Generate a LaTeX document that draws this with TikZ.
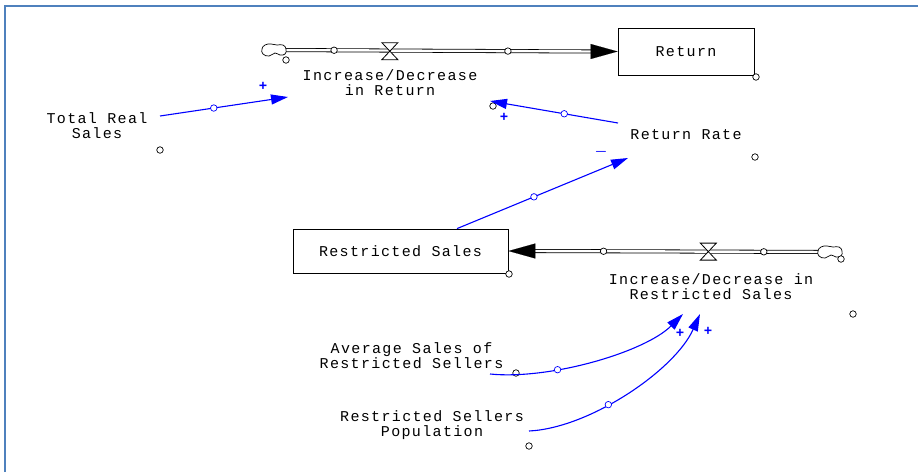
\documentclass[tikz,border=0pt]{standalone}
\usepackage{fontspec}
\newfontfamily\simfont[LetterSpace=9]{Liberation Mono}
\usetikzlibrary{arrows.meta,positioning,calc}
\definecolor{framecol}{RGB}{79,129,189}
\definecolor{linkblue}{RGB}{0,0,255}

\begin{document}
\begin{tikzpicture}[x=1pt,y=-1pt,
    varname/.style={font=\simfont\fontsize{15}{15}\selectfont,align=center,inner sep=0pt},
    stockbox/.style={varname,draw,line width=0.8pt},
    dot/.style={circle,draw,line width=0.7pt,minimum size=6.5pt,inner sep=0pt,fill=white},
    handle/.style={dot,draw=linkblue},
    link/.style={draw=linkblue,line width=1.1pt,-{Triangle[length=17pt,width=10pt]}},
    pipe/.style={double,double distance=2.4pt,line width=0.8pt},
    pipetip/.style={line width=0.1pt,-{Triangle[length=27pt,width=15pt]}},
    valve/.style={draw,line width=0.8pt,fill=white,line join=miter},
    source/.style={draw,line width=0.7pt,fill=white},
    sign/.style={text=linkblue,font=\boldmath\simfont\bfseries\fontsize{14}{14}\selectfont,inner sep=0pt}]
    \useasboundingbox (0,0) rectangle (918,472);
    \draw[framecol,line width=2pt] (5,472) -- (5,6) -- (918,6);

    \node[stockbox,minimum width=136pt,minimum height=47pt] (ret) at (686,51.5) {Return};
    \node[stockbox,minimum width=215pt,minimum height=44pt] (rs) at (400.5,251) {Restricted Sales};
    \node[varname] (idr) at (390,82.5) {Increase/Decrease\\in Return};
    \node[varname] (idrs) at (711,286.5) {Increase/Decrease in\\Restricted Sales};
    \node[varname] (trs) at (97,125.5) {Total Real\\Sales};
    \node[varname] (rr) at (686,134.5) {Return Rate};
    \node[varname] (asrs) at (411.5,355.5) {Average Sales of\\Restricted Sellers};
    \node[varname] (rsp) at (432,425.5) {Restricted Sellers\\Population};

    \coordinate (srca) at (274,50);
    \coordinate (srcb) at (830,252);

    \draw[pipe] (srca) -- ([xshift=-25pt]ret.west);
    \draw[pipetip] ([xshift=-26pt]ret.west) -- (ret.west);
    \path (285,51) -- coordinate[pos=0.342] (va) ([xshift=-26pt]ret.west);
    \draw[valve] ([shift={(-8,-8.5)}]va) -- ++(16,0) -- ([shift={(-8,8.5)}]va) -- ++(16,0) -- cycle;
    \draw[source,shift={(srca)}] plot[smooth cycle,tension=0.8] coordinates
        {(-12,-1) (-9,-5) (-3,-6) (3,-5) (9,-5) (12,-1) (11,4) (6,5) (1,3) (-5,6) (-11,4)};
    \path ([xshift=11pt]srca) -- node[dot,pos=0.16] (pa1) {} node[dot,pos=0.727] (pa2) {} ([xshift=-26pt]ret.west);

    \draw[pipe] (srcb) -- ([xshift=25pt]rs.east);
    \draw[pipetip] ([xshift=26pt]rs.east) -- (rs.east);
    \path (820,252) -- coordinate[pos=0.391] (vb) ([xshift=26pt]rs.east);
    \draw[valve] ([shift={(-8,-8.5)}]vb) -- ++(16,0) -- ([shift={(-8,8.5)}]vb) -- ++(16,0) -- cycle;
    \draw[source,shift={(srcb)}] plot[smooth cycle,tension=0.8] coordinates
        {(-12,-1) (-9,-5) (-3,-6) (3,-5) (9,-5) (12,-1) (11,4) (6,5) (1,3) (-5,6) (-11,4)};
    \path ([xshift=-11pt]srcb) -- node[dot,pos=0.194] (pb1) {} node[dot,pos=0.757] (pb2) {} ([xshift=26pt]rs.east);

    \foreach \nm/\x/\y in {ret/756/77,rs/509/274,idr/493/106,idrs/853/314,trs/160/150,rr/755/157,asrs/516/373,rsp/529/446,srca/286/60,srcb/841/259}
        \node[dot] (\nm-dot) at (\x,\y) {};

    \draw[link] ([shift={(63,-9.5)}]trs.center) -- node[handle,pos=0.42] (ha) {} ([shift={(-102,14.5)}]idr.center);
    \draw[link] ([shift={(-68,-11.5)}]rr.center) -- node[handle,pos=0.42] (hb) {} ([shift={(100,18.5)}]idr.center);
    \draw[link] ([xshift=56.5]rs.north) -- node[handle,pos=0.45] (hc) {} ([shift={(-58,23.5)}]rr.center);
    \draw[link] ([shift={(78.5,18.5)}]asrs.center) .. controls +(60,6) and +(-38,38) .. node[handle,pos=0.33] (hd) {} ([shift={(-28,27.5)}]idrs.center);
    \draw[link] ([shift={(97,5.5)}]rsp.center) .. controls +(61,-3) and +(-25,56) .. node[handle,pos=0.4] (he) {} ([shift={(-11,27.5)}]idrs.center);

    \foreach \s/\x/\y/\t in {a/263/86/+,b/504/117/+,c/601/152/$-$,d/680/333/+,e/708/331/+}
        \node[sign] (sign-\s) at (\x,\y) {\t};
\end{tikzpicture}
\end{document}
